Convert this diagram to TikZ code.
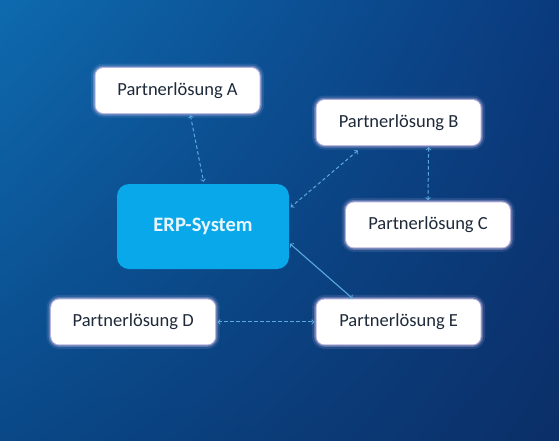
\documentclass[tikz,border=0pt]{standalone}
\usepackage{fontspec}
\setmainfont{Carlito}
\usepackage{tikz}
\usetikzlibrary{arrows}
\usetikzlibrary{positioning}
\usetikzlibrary{calc}
\usetikzlibrary{shadings}

\definecolor{bgtl}{HTML}{0E6AAE}
\definecolor{bgtr}{HTML}{0A3A7E}
\definecolor{bgbl}{HTML}{0A4888}
\definecolor{bgbr}{HTML}{0B2F68}
\definecolor{erpblue}{HTML}{08A8EA}
\definecolor{erptext}{HTML}{E8F6FF}
\definecolor{boxtext}{HTML}{1E2A3A}
\definecolor{glowc}{HTML}{DCCBF2}
\definecolor{linkc}{HTML}{5AAAE0}

\tikzset{
  partner/.style={fill=white, rounded corners=8pt, minimum width=164pt, minimum height=45pt,
    inner sep=0pt, text=boxtext, font=\fontsize{18.5}{21}\selectfont,
    preaction={draw=glowc, line width=9pt, draw opacity=.12},
    preaction={draw=glowc, line width=5pt, draw opacity=.3},
    preaction={draw=glowc, line width=2pt, draw opacity=.7}},
  erp/.style={fill=erpblue, rounded corners=12pt, minimum width=172pt, minimum height=85pt,
    inner sep=0pt, text=erptext, font=\fontsize{20.5}{23}\selectfont\bfseries},
  link/.style={<->, draw=linkc, line width=1pt, dash pattern=on 3.5pt off 2.5pt, shorten >=2pt, shorten <=2pt},
  tight/.style={<->, draw=linkc, line width=1.1pt, shorten >=1pt, shorten <=1pt}
}

\begin{document}
\begin{tikzpicture}[x=1pt, y=-1pt, >=to]

  \shade[upper left=bgtl, upper right=bgtr, lower left=bgbl, lower right=bgbr]
    (0,0) rectangle (559,440);
  \useasboundingbox (0,0) rectangle (559,440);

  \node[erp] (erp) at (203,226.5) {ERP-System};
  \node[partner] (a) at (177.5,90.5) {Partnerlösung A};
  \node[partner] (b) at (398.6,122.5) {Partnerlösung B};
  \node[partner] (c) [below=57pt of b, xshift=29.4pt] {Partnerlösung C};
  \node[partner] (e) [below=154pt of b] {Partnerlösung E};
  \node[partner] (d) [left=101pt of e] {Partnerlösung D};

  \draw[link] ([xshift=12.5pt]a.south) -- ([xshift=1pt]erp.north);
  \draw[link] ([xshift=43pt,yshift=-4pt]b.south west) -- ([yshift=18pt]erp.east);
  \draw[link] ([xshift=30pt]b.south) -- (c.north);
  \draw[tight] ([yshift=-16.5pt]erp.east) -- ([xshift=37pt]e.north west);
  \draw[link] (d.east) -- (e.west);

\end{tikzpicture}
\end{document}
